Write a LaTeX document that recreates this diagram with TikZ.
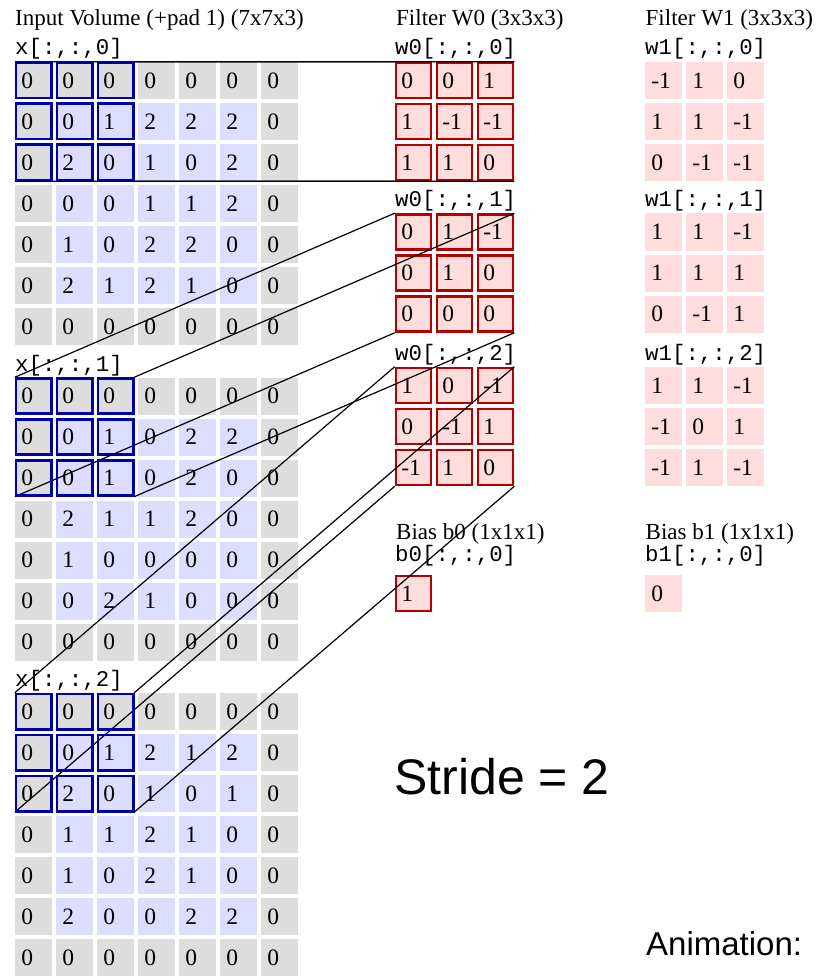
\documentclass[tikz,border=0pt]{standalone}
\usepackage{fontspec}
\setmainfont{Liberation Serif}
\setsansfont{Liberation Sans}
\setmonofont{Liberation Mono}
\usetikzlibrary{calc}
\definecolor{padgray}{RGB}{221,221,221}
\definecolor{inlav}{RGB}{221,221,255}
\definecolor{fpink}{RGB}{255,221,221}
\definecolor{hlblue}{RGB}{0,0,170}
\definecolor{hlred}{RGB}{180,0,0}
\tikzset{
  cell/.style={rectangle, minimum width=37pt, minimum height=37pt, inner sep=0pt,
    text width=24.5pt, align=left, text height=15.5pt, text depth=0pt,
    font=\fontsize{23.5}{27}\selectfont},
  fcell/.style={cell, fill=fpink, draw=hlred, line width=2.6pt, minimum width=35pt, minimum height=35pt},
  wcell/.style={cell, fill=fpink},
  hlbox/.style={draw=hlblue, line width=2.6pt},
  link/.style={draw=black, line width=1.2pt},
  title/.style={anchor=base west, inner sep=0pt, font=\fontsize{23}{27}\selectfont},
  code/.style={anchor=base west, inner sep=0pt, font=\fontsize{22.4}{27}\ttfamily},
  big/.style={anchor=base west, inner sep=0pt, font=\fontsize{50}{60}\sffamily},
  mid/.style={anchor=base west, inner sep=0pt, font=\fontsize{33}{40}\sffamily},
}
\newcommand\xgrid[3]{%
  \foreach \rowdata [count=\ri from 0] in {#3} {%
    \foreach \v [count=\ci from 0] in \rowdata {%
      \pgfmathtruncatemacro\ispad{(\ri==0)||(\ri==6)||(\ci==0)||(\ci==6)}%
      \ifnum\ispad=1\relax\def\cc{padgray}\else\def\cc{inlav}\fi
      \node[cell, fill=\cc] (#1-\ri-\ci) at ({33.5+41*\ci},{#2+18.5+41*\ri}) {\v};
    }
  }
}
\newcommand\fgrid[5]{%
  \foreach \rowdata [count=\ri from 0] in {#5} {%
    \foreach \v [count=\ci from 0] in \rowdata {%
      \node[#4] (#1-\ri-\ci) at ({#2+18.5+41*\ci},{#3+18.5+41*\ri}) {\v};
    }
  }
}
\begin{document}
\begin{tikzpicture}[x=1pt,y=-1pt]
\useasboundingbox (0,0) rectangle (820,976);
% titles
\node[title] (tin) at (15,26) {Input Volume (+pad 1) (7x7x3)};
\node[title] (tw0) at (396,26) {Filter W0 (3x3x3)};
\node[title] (tw1) at (645.5,26) {Filter W1 (3x3x3)};
% input slices
\node[code] (lx0) at (15,55) {x[:,:,0]};
\xgrid{x0}{62}{{0,0,0,0,0,0,0},{0,0,1,2,2,2,0},{0,2,0,1,0,2,0},{0,0,0,1,1,2,0},{0,1,0,2,2,0,0},{0,2,1,2,1,0,0},{0,0,0,0,0,0,0}}
\node[code] (lx1) at (15,371) {x[:,:,1]};
\xgrid{x1}{377.5}{{0,0,0,0,0,0,0},{0,0,1,0,2,2,0},{0,0,1,0,2,0,0},{0,2,1,1,2,0,0},{0,1,0,0,0,0,0},{0,0,2,1,0,0,0},{0,0,0,0,0,0,0}}
\node[code] (lx2) at (15,686.5) {x[:,:,2]};
\xgrid{x2}{693}{{0,0,0,0,0,0,0},{0,0,1,2,1,2,0},{0,2,0,1,0,1,0},{0,1,1,2,1,0,0},{0,1,0,2,1,0,0},{0,2,0,0,2,2,0},{0,0,0,0,0,0,0}}
% filter W0
\node[code] (lw00) at (395,55) {w0[:,:,0]};
\fgrid{w0a}{395}{62}{fcell}{{0,0,1},{1,-1,-1},{1,1,0}}
\node[code] (lw01) at (395,206.5) {w0[:,:,1]};
\fgrid{w0b}{395}{213.5}{fcell}{{0,1,-1},{0,1,0},{0,0,0}}
\node[code] (lw02) at (395,360) {w0[:,:,2]};
\fgrid{w0c}{395}{367}{fcell}{{1,0,-1},{0,-1,1},{-1,1,0}}
% filter W1
\node[code] (lw10) at (645,55) {w1[:,:,0]};
\fgrid{w1a}{645}{62}{wcell}{{-1,1,0},{1,1,-1},{0,-1,-1}}
\node[code] (lw11) at (645,206.5) {w1[:,:,1]};
\fgrid{w1b}{645}{213.5}{wcell}{{1,1,-1},{1,1,1},{0,-1,1}}
\node[code] (lw12) at (645,360) {w1[:,:,2]};
\fgrid{w1c}{645}{367}{wcell}{{1,1,-1},{-1,0,1},{-1,1,-1}}
% biases
\node[title] (tb0) at (396,539.5) {Bias b0 (1x1x1)};
\node[code] (lb0) at (395,561.5) {b0[:,:,0]};
\node[fcell] (b0) at (413.5,593.5) {1};
\node[title] (tb1) at (645.5,539.5) {Bias b1 (1x1x1)};
\node[code] (lb1) at (645,561.5) {b1[:,:,0]};
\node[wcell] (b1) at (663.5,593.5) {0};
% connectors
\foreach \xs/\ws in {x0/w0a, x1/w0b, x2/w0c} {
  \draw[link] (\xs-0-0.north west) -- (\ws-0-0.north west);
  \draw[link] (\xs-0-2.north east) -- (\ws-0-2.north east);
  \draw[link] (\xs-2-0.south west) -- (\ws-2-0.south west);
  \draw[link] (\xs-2-2.south east) -- (\ws-2-2.south east);
}
% receptive field highlight
\foreach \g in {x0,x1,x2} {
  \foreach \ri in {0,1,2} {
    \foreach \ci in {0,1,2} {
      \draw[hlbox] ($(\g-\ri-\ci.north west)+(1,1)$) rectangle ($(\g-\ri-\ci.south east)+(-1,-1)$);
    }
  }
}
% annotations
\node[big] (stride) at (394,794) {Stride = 2};
\node[mid] (anim) at (646,955) {Animation:};
\end{tikzpicture}
\end{document}
